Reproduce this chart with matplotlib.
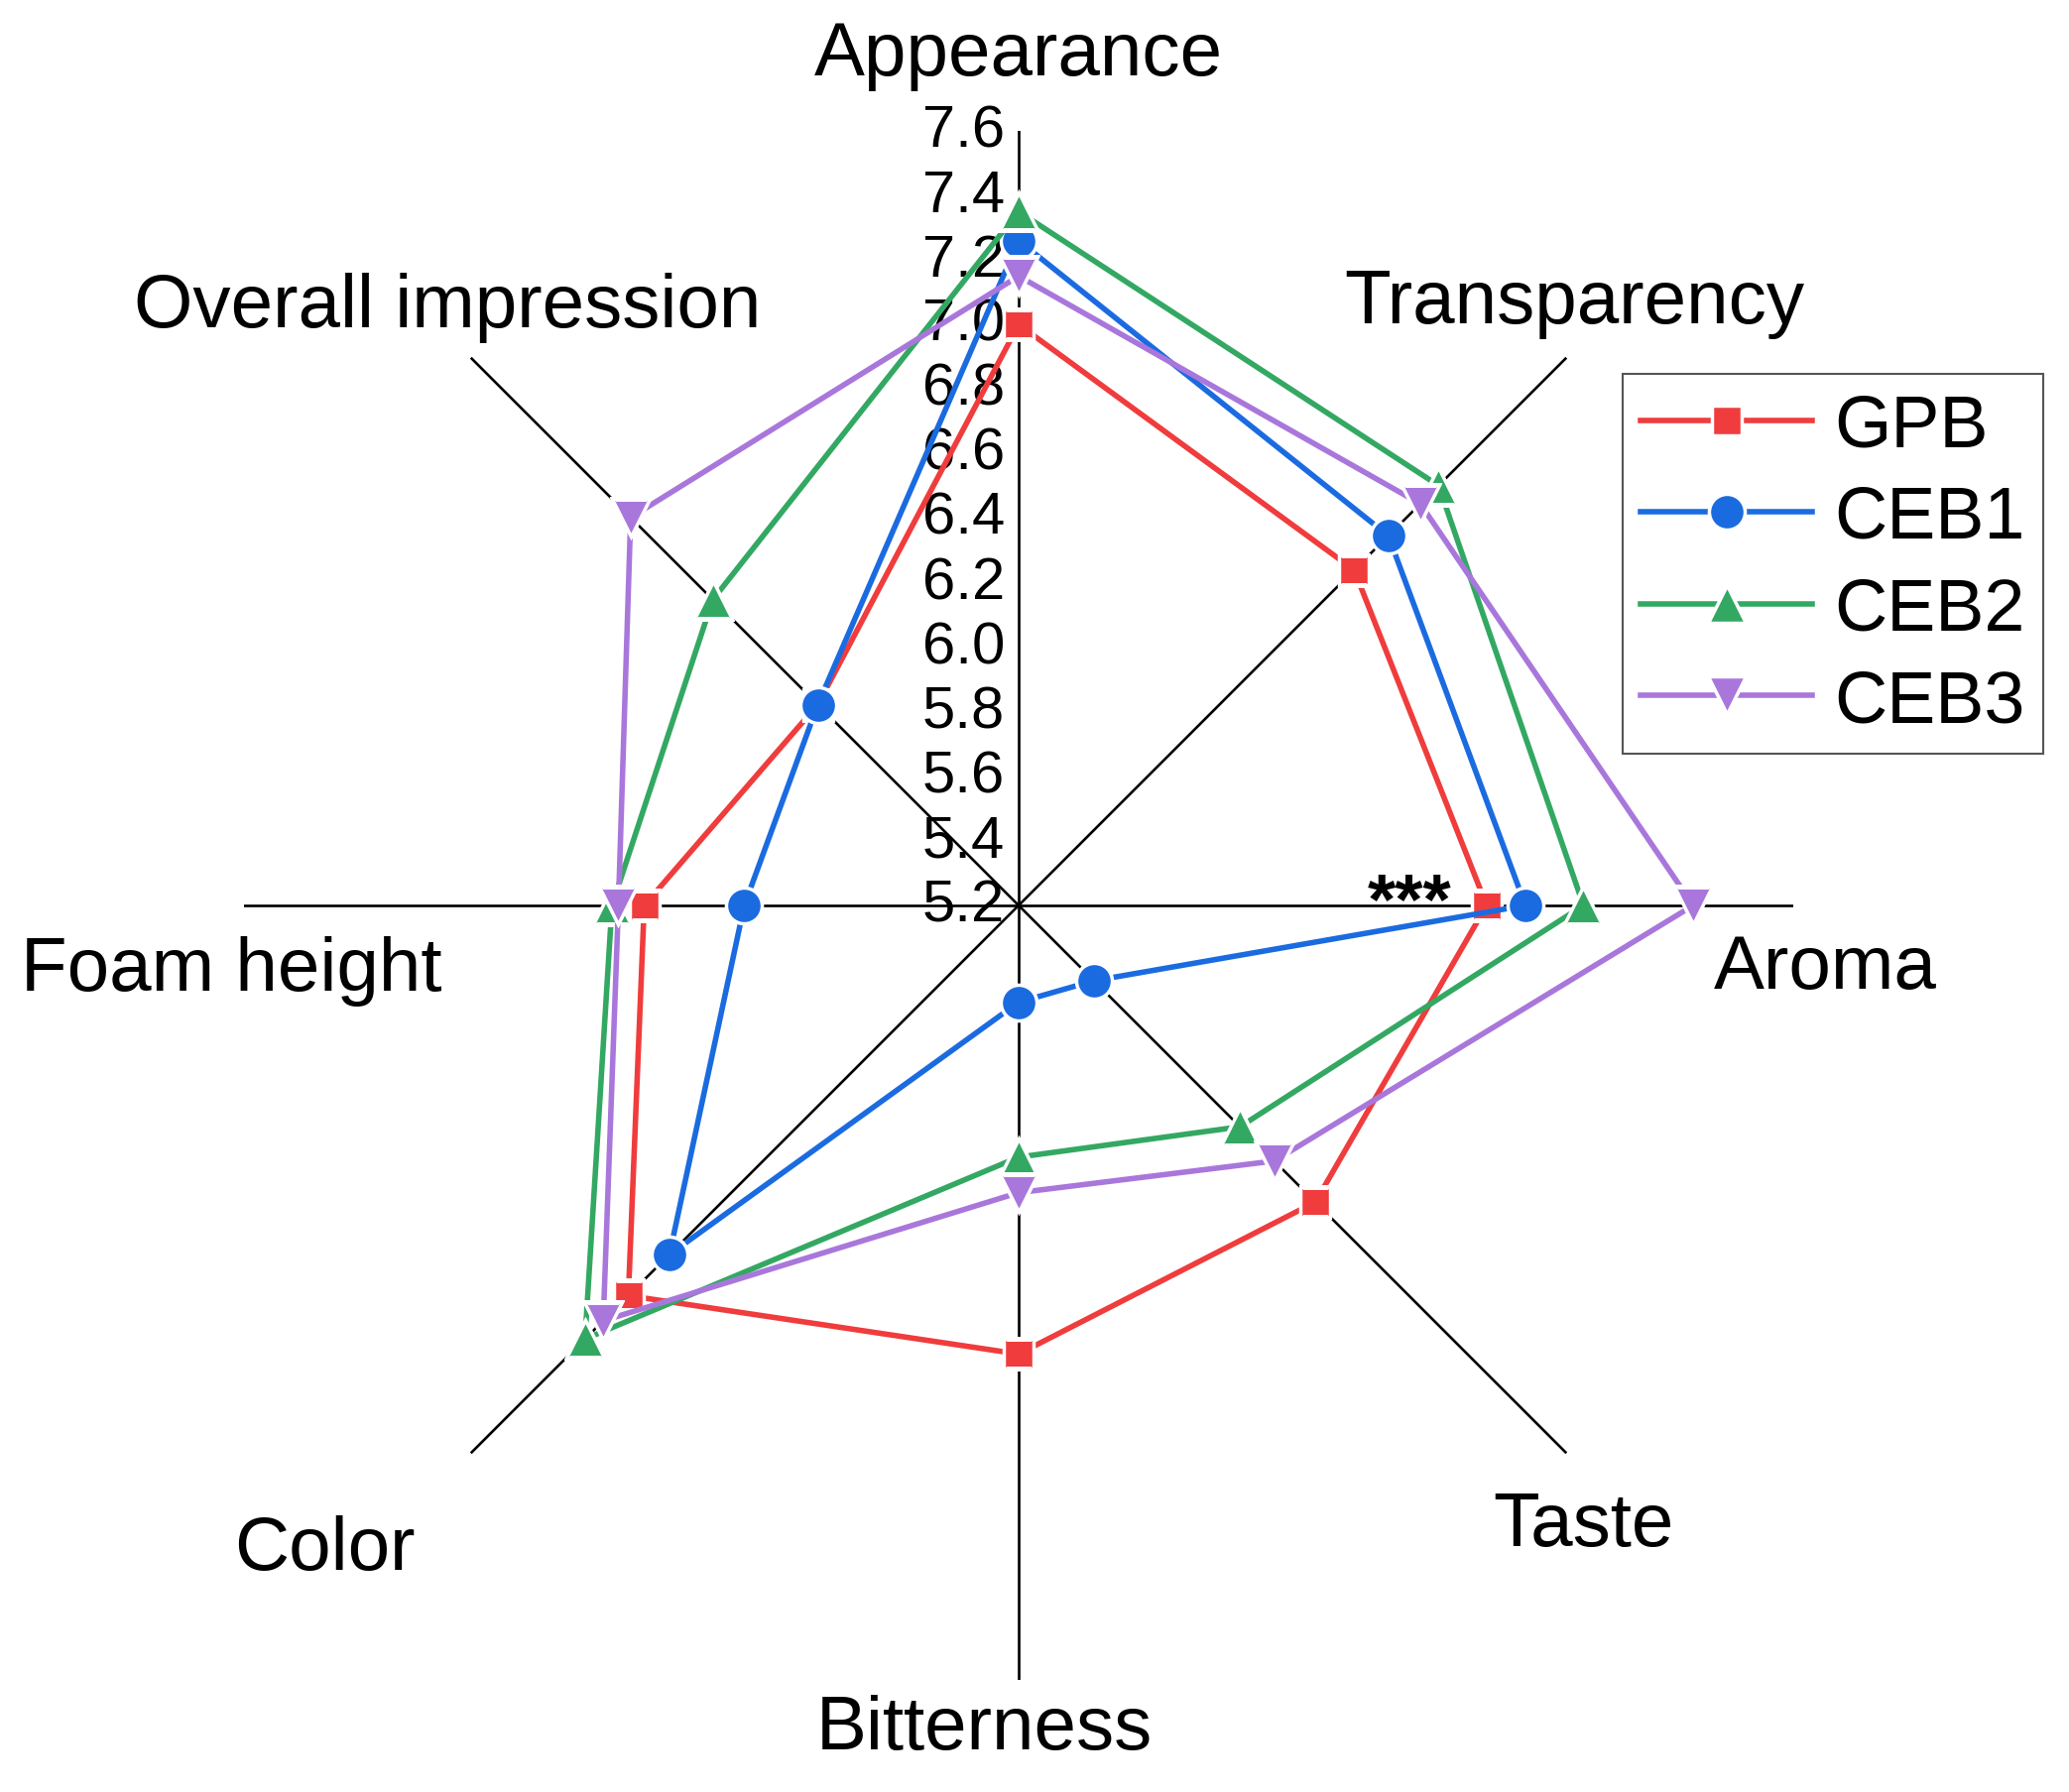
import numpy as np
import matplotlib
matplotlib.use("Agg")
import matplotlib.pyplot as plt
from matplotlib.transforms import offset_copy
from matplotlib.lines import Line2D

plt.rcParams['font.family'] = ['Liberation Sans', 'DejaVu Sans']

categories = ["Appearance", "Transparency", "Aroma", "Taste",
              "Bitterness", "Color", "Foam height", "Overall impression"]
series_names = ["GPB", "CEB1", "CEB2", "CEB3"]
gpb  = [7.00, 6.67, 6.65, 6.50, 6.59, 6.91, 6.36, 6.08]
ceb1 = [7.26, 6.82, 6.77, 5.53, 5.50, 6.73, 6.05, 6.08]
ceb2 = [7.35, 7.04, 6.95, 6.17, 5.98, 7.10, 6.46, 6.54]
ceb3 = [7.15, 6.96, 7.29, 6.32, 6.09, 7.02, 6.44, 6.90]
tick_values = [5.2, 5.4, 5.6, 5.8, 6.0, 6.2, 6.4, 6.6, 6.8, 7.0, 7.2, 7.4, 7.6]
r_min, r_max = 5.2, 7.6
annot_text = "***"
annot_value = 6.41

colors = ["#F03C3C", "#1B6BE0", "#33A862", "#A977DB"]
markers = ["s", "o", "^", "v"]
msizes = [22, 26, 28, 28]

W, H = 2086, 1808
fig = plt.figure(figsize=(W / 100, H / 100), dpi=100)
cx, cy, R = 1027, 914, 781
ax = fig.add_axes([(cx - R) / W, (H - cy - R) / H, 2 * R / W, 2 * R / H],
                  projection="polar")
ax.set_theta_zero_location("N")
ax.set_theta_direction(-1)
ax.set_ylim(r_min, r_max)
ax.grid(False)
ax.spines["polar"].set_visible(False)
ax.set_xticks([])
ax.set_yticks([])
ax.patch.set_alpha(0)

n = len(categories)
angles = np.arange(n) * 2 * np.pi / n

# axis lines
for a in angles:
    ax.plot([a, a], [r_min, r_max], color="black", lw=1.9, zorder=1)

# tick labels along vertical axis
tr = offset_copy(ax.transData, fig=fig, x=-14, y=0, units="dots")
for t in tick_values:
    ax.text(0, t, f"{t:.1f}", transform=tr, ha="right", va="center",
            fontsize=43, zorder=2)

data = [gpb, ceb1, ceb2, ceb3]
for i, (name, vals, c, m, ms) in enumerate(zip(series_names, data, colors, markers, msizes)):
    th = np.append(angles, angles[0])
    rr = np.append(vals, vals[0])
    ax.plot(th, rr, color=c, lw=4.0, zorder=3 + 2 * i, solid_capstyle="round")
    ax.plot(angles, vals, linestyle="none", marker=m, markersize=ms,
            color=c, markeredgecolor="white", markeredgewidth=2.5,
            zorder=4 + 2 * i)

# annotation
tra = offset_copy(ax.transData, fig=fig, x=0, y=-17, units="dots")
ax.text(angles[2], annot_value, annot_text, transform=tra, ha="center",
        va="baseline", fontsize=52, fontweight="bold", zorder=20)

# category labels
label_pos = [(1027, 57), (1587, 306), (1840, 978), (1596, 1539),
             (992, 1745), (327, 1563), (233, 980), (451, 310)]
for lab, (x, y) in zip(categories, label_pos):
    fig.text(x / W, 1 - y / H, lab, ha="center", va="center", fontsize=55)

# legend
handles = [Line2D([], [], color=c, lw=4.0, marker=m, markersize=ms,
                  markeredgecolor="white", markeredgewidth=2.5)
           for c, m, ms in zip(colors, markers, msizes)]
leg = fig.legend(handles, series_names, loc="upper left",
                 bbox_to_anchor=(1636 / W, 1 - 378 / H),
                 bbox_transform=fig.transFigure, borderaxespad=0,
                 fontsize=53, handlelength=2.35, handletextpad=0.3,
                 labelspacing=0.32, borderpad=0.25, fancybox=False,
                 framealpha=1, edgecolor="#555555")
leg.get_frame().set_linewidth(1.5)

fig.savefig("out.png", dpi=100, facecolor="white")
